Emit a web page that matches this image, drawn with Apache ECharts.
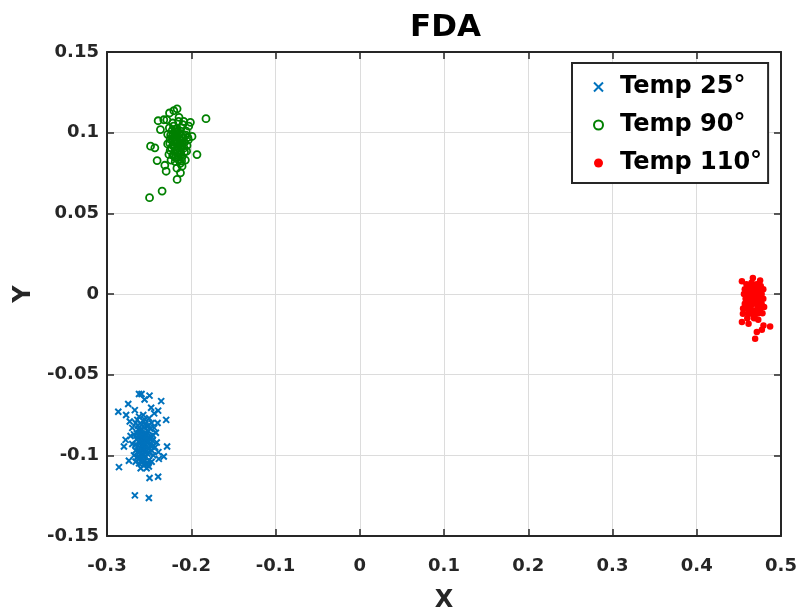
<!DOCTYPE html>
<html>
<head>
<meta charset="utf-8">
<script src="https://cdn.jsdelivr.net/npm/echarts@6/dist/echarts.min.js"></script>
<style>html,body{margin:0;padding:0;background:#fff;}#chart{width:799px;height:611px;}</style>
</head>
<body>
<div id="chart"></div>
<script>
const chartTitle = 'FDA';
const xName = 'X';
const yName = 'Y';
const seriesNames = ['Temp 25°', 'Temp 90°', 'Temp 110°'];
const xTicks = { min: -0.3, max: 0.5, interval: 0.1 };
const yTicks = { min: -0.15, max: 0.15, interval: 0.05 };

const temp25 = [
  [-0.262,-0.062],[-0.259,-0.062],[-0.2495,-0.063],[-0.2554,-0.0654],[-0.2748,-0.0682],[-0.2357,-0.0664],
  [-0.2476,-0.0705],[-0.2866,-0.073],[-0.2393,-0.0723],[-0.2773,-0.075],[-0.2298,-0.078],[-0.2779,-0.0904],
  [-0.2799,-0.0945],[-0.2287,-0.0945],[-0.2326,-0.1007],[-0.2385,-0.1022],[-0.2858,-0.1073],[-0.2503,-0.1069],
  [-0.274,-0.1034],[-0.2495,-0.114],[-0.2393,-0.1133],[-0.2669,-0.1248],[-0.2503,-0.1264],
  [-0.262,-0.076],[-0.255,-0.078],[-0.250,-0.077],[-0.266,-0.080],[-0.259,-0.081],[-0.247,-0.080],
  [-0.270,-0.083],[-0.263,-0.084],[-0.256,-0.083],[-0.251,-0.085],[-0.244,-0.083],[-0.268,-0.087],
  [-0.261,-0.086],[-0.258,-0.088],[-0.253,-0.087],[-0.248,-0.088],[-0.242,-0.086],[-0.265,-0.090],
  [-0.260,-0.091],[-0.256,-0.090],[-0.252,-0.092],[-0.246,-0.091],[-0.270,-0.093],[-0.263,-0.094],
  [-0.258,-0.093],[-0.254,-0.095],[-0.249,-0.094],[-0.243,-0.095],[-0.266,-0.097],[-0.261,-0.098],
  [-0.257,-0.097],[-0.252,-0.099],[-0.247,-0.097],[-0.264,-0.101],[-0.259,-0.102],[-0.254,-0.101],
  [-0.250,-0.103],[-0.262,-0.105],[-0.256,-0.106],[-0.251,-0.105],[-0.259,-0.089],[-0.255,-0.086],
  [-0.257,-0.095],[-0.260,-0.084],[-0.253,-0.082],[-0.262,-0.092],[-0.249,-0.090],[-0.264,-0.078],
  [-0.257,-0.075],[-0.245,-0.100],[-0.268,-0.100],[-0.241,-0.092],[-0.272,-0.088],[-0.260,-0.108],
  [-0.253,-0.108],[-0.255,-0.093],[-0.258,-0.099],[-0.251,-0.096],[-0.263,-0.088],[-0.267,-0.072],
  [-0.244,-0.074],[-0.240,-0.080],[-0.273,-0.079],[-0.239,-0.098],[-0.266,-0.104],[-0.247,-0.104],
  [-0.2585,-0.0865],[-0.2545,-0.0885],[-0.2565,-0.0915],[-0.2605,-0.0955],[-0.2535,-0.0975],[-0.2575,-0.1005],
  [-0.2615,-0.1015],[-0.2555,-0.1035],[-0.2505,-0.0915],[-0.2525,-0.0895],[-0.2595,-0.0845],[-0.2635,-0.0815],
  [-0.2485,-0.0835],[-0.2455,-0.0875],[-0.2465,-0.0945],[-0.2665,-0.0935],[-0.2645,-0.0865],[-0.2625,-0.0975],
  [-0.2545,-0.0805],[-0.2505,-0.0815],[-0.2575,-0.0785],[-0.2535,-0.1055],[-0.2585,-0.1045],[-0.2495,-0.0985]
];

const temp90 = [
  [-0.2168,0.1148],[-0.2207,0.1136],[-0.2258,0.1122],[-0.1825,0.1087],[-0.2326,0.108],[-0.2393,0.1074],
  [-0.201,0.1064],[-0.2366,0.1019],[-0.1991,0.0977],[-0.2483,0.0916],[-0.2432,0.0906],[-0.1932,0.0864],
  [-0.2405,0.0827],[-0.2314,0.0798],[-0.2109,0.0792],[-0.2298,0.0761],[-0.2128,0.0751],[-0.2168,0.071],
  [-0.2346,0.0638],[-0.2495,0.0597],
  [-0.222,0.106],[-0.215,0.107],[-0.210,0.105],[-0.226,0.103],[-0.219,0.102],[-0.212,0.103],
  [-0.206,0.101],[-0.228,0.099],[-0.222,0.099],[-0.216,0.098],[-0.210,0.099],[-0.204,0.097],
  [-0.225,0.096],[-0.219,0.095],[-0.214,0.096],[-0.208,0.094],[-0.228,0.093],[-0.222,0.092],
  [-0.217,0.093],[-0.211,0.091],[-0.205,0.092],[-0.225,0.089],[-0.219,0.089],[-0.214,0.088],
  [-0.208,0.088],[-0.222,0.086],[-0.216,0.085],[-0.211,0.085],[-0.219,0.082],[-0.213,0.081],
  [-0.207,0.083],[-0.217,0.078],[-0.224,0.083],[-0.216,0.101],[-0.213,0.093],[-0.220,0.097],
  [-0.218,0.089],[-0.212,0.098],[-0.221,0.104],[-0.209,0.107],[-0.229,0.108],[-0.203,0.104],
  [-0.2055,0.0885],[-0.2265,0.0865],[-0.2145,0.1095],[-0.2035,0.0955],
  [-0.2175,0.0945],[-0.2195,0.0915],[-0.2155,0.0905],[-0.2135,0.0955],[-0.2185,0.0975],[-0.2215,0.0945],
  [-0.2235,0.0905],[-0.2165,0.0875],[-0.2125,0.0875],[-0.2105,0.0935],[-0.2095,0.0965],[-0.2145,0.0995],
  [-0.2195,0.1005],[-0.2245,0.0985],[-0.2255,0.0935],[-0.2205,0.0855],[-0.2155,0.0835],[-0.2115,0.0825],
  [-0.2185,0.0845],[-0.2135,0.0915],[-0.2175,0.1025],[-0.2225,0.1015],[-0.2085,0.0905],[-0.2065,0.0985]
];

const temp110 = [
  [0.4536,0.0079],[0.4666,0.0099],[0.4752,0.0083],[0.4536,-0.0174],[0.4615,-0.0184],[0.4792,-0.0195],
  [0.4871,-0.0201],[0.4773,-0.0221],[0.4713,-0.0236],[0.4693,-0.0277],[0.4548,-0.0123],
  [0.459,0.006],[0.465,0.007],[0.471,0.006],[0.476,0.005],[0.457,0.003],[0.462,0.004],
  [0.468,0.003],[0.474,0.002],[0.479,0.003],[0.456,0.000],[0.461,0.001],[0.466,0.000],
  [0.471,-0.001],[0.477,0.000],[0.458,-0.003],[0.463,-0.002],[0.469,-0.003],[0.474,-0.004],
  [0.479,-0.003],[0.457,-0.006],[0.462,-0.005],[0.467,-0.006],[0.472,-0.007],[0.477,-0.006],
  [0.459,-0.009],[0.464,-0.008],[0.470,-0.010],[0.475,-0.009],[0.461,-0.012],[0.467,-0.013],
  [0.473,-0.012],[0.465,0.002],[0.470,0.004],[0.466,-0.004],[0.463,-0.010],[0.468,-0.015],
  [0.478,-0.012],[0.455,-0.009],[0.480,-0.008],[0.460,-0.015],[0.473,-0.016],
  [0.4685,-0.0015],[0.4645,-0.0055],[0.4705,-0.0055],[0.4725,0.0005],[0.4635,0.0045],[0.4675,0.0055],
  [0.4605,-0.0075],[0.4745,-0.0105],[0.4655,-0.0115],[0.4695,-0.0125],[0.4595,-0.0025],[0.4765,-0.0025]
];

const FONT = 'DejaVu Sans';
const AX = '#262626';
const chart = echarts.init(document.getElementById('chart'), null, { renderer: 'canvas' });

const grid = { left: 107, right: 18, top: 52, bottom: 75, containLabel: false, outerBoundsMode: 'none' };
const tickStyle = { inside: true, length: 7, lineStyle: { color: AX, width: 1.5 } };
const lineStyle = { lineStyle: { color: AX, width: 2 } };

chart.setOption({
  backgroundColor: '#fff',
  animation: false,
  title: {
    text: chartTitle, left: 405, top: 7,
    textStyle: { fontFamily: FONT, fontWeight: 'bold', fontSize: 31, color: '#000' }
  },
  grid: grid,
  legend: {
    orient: 'vertical', left: 572, top: 63,
    padding: [12, 6, 8, 21],
    itemGap: 14, itemWidth: 9, itemHeight: 9,
    backgroundColor: '#fff', borderColor: AX, borderWidth: 2,
    textStyle: { fontFamily: FONT, fontWeight: 'bold', fontSize: 24, color: '#000', lineHeight: 24,
      padding: [0, 0, 0, 12] },
    data: seriesNames
  },
  xAxis: [{
    type: 'value', min: xTicks.min, max: xTicks.max, interval: xTicks.interval,
    name: xName, nameLocation: 'middle', nameGap: 53,
    nameTextStyle: { fontFamily: FONT, fontWeight: 'bold', fontSize: 24, color: '#262626' },
    axisLine: Object.assign({ onZero: false }, lineStyle),
    axisTick: tickStyle,
    axisLabel: { fontFamily: FONT, fontWeight: 'bold', fontSize: 18, color: '#262626', margin: 21,
      formatter: v => String(Math.round(v * 100) / 100) },
    splitLine: { show: true, lineStyle: { color: '#dcdcdc', width: 1 } }
  }, {
    type: 'value', position: 'top', min: xTicks.min, max: xTicks.max, interval: xTicks.interval,
    axisLine: Object.assign({ onZero: false }, lineStyle), axisTick: tickStyle,
    axisLabel: { show: false }, splitLine: { show: false }
  }],
  yAxis: [{
    type: 'value', min: yTicks.min, max: yTicks.max, interval: yTicks.interval,
    name: yName, nameLocation: 'middle', nameGap: 61, nameRotate: 90,
    nameTextStyle: { fontFamily: FONT, fontWeight: 'bold', fontSize: 24, color: '#262626' },
    axisLine: Object.assign({ onZero: false }, lineStyle),
    axisTick: tickStyle,
    axisLabel: { fontFamily: FONT, fontWeight: 'bold', fontSize: 18, color: '#262626', margin: 8,
      formatter: v => String(Math.round(v * 100) / 100) },
    splitLine: { show: true, lineStyle: { color: '#dcdcdc', width: 1 } }
  }, {
    type: 'value', position: 'right', min: yTicks.min, max: yTicks.max, interval: yTicks.interval,
    axisLine: Object.assign({ onZero: false }, lineStyle), axisTick: tickStyle,
    axisLabel: { show: false }, splitLine: { show: false }
  }],
  series: [{
    name: seriesNames[0], type: 'scatter', data: temp25,
    symbol: 'path://M0,0L10,10M10,0L0,10', symbolSize: 6,
    itemStyle: { color: '#0072BD', borderColor: '#0072BD', borderWidth: 2, opacity: 1 }
  }, {
    name: seriesNames[1], type: 'scatter', data: temp90,
    symbol: 'circle', symbolSize: 7,
    itemStyle: { color: 'rgba(255,255,255,0)', borderColor: '#008000', borderWidth: 1.8, opacity: 1 }
  }, {
    name: seriesNames[2], type: 'scatter', data: temp110,
    symbol: 'circle', symbolSize: 6.5,
    itemStyle: { color: '#FF0000', opacity: 1 }
  }]
});
</script>
</body>
</html>
